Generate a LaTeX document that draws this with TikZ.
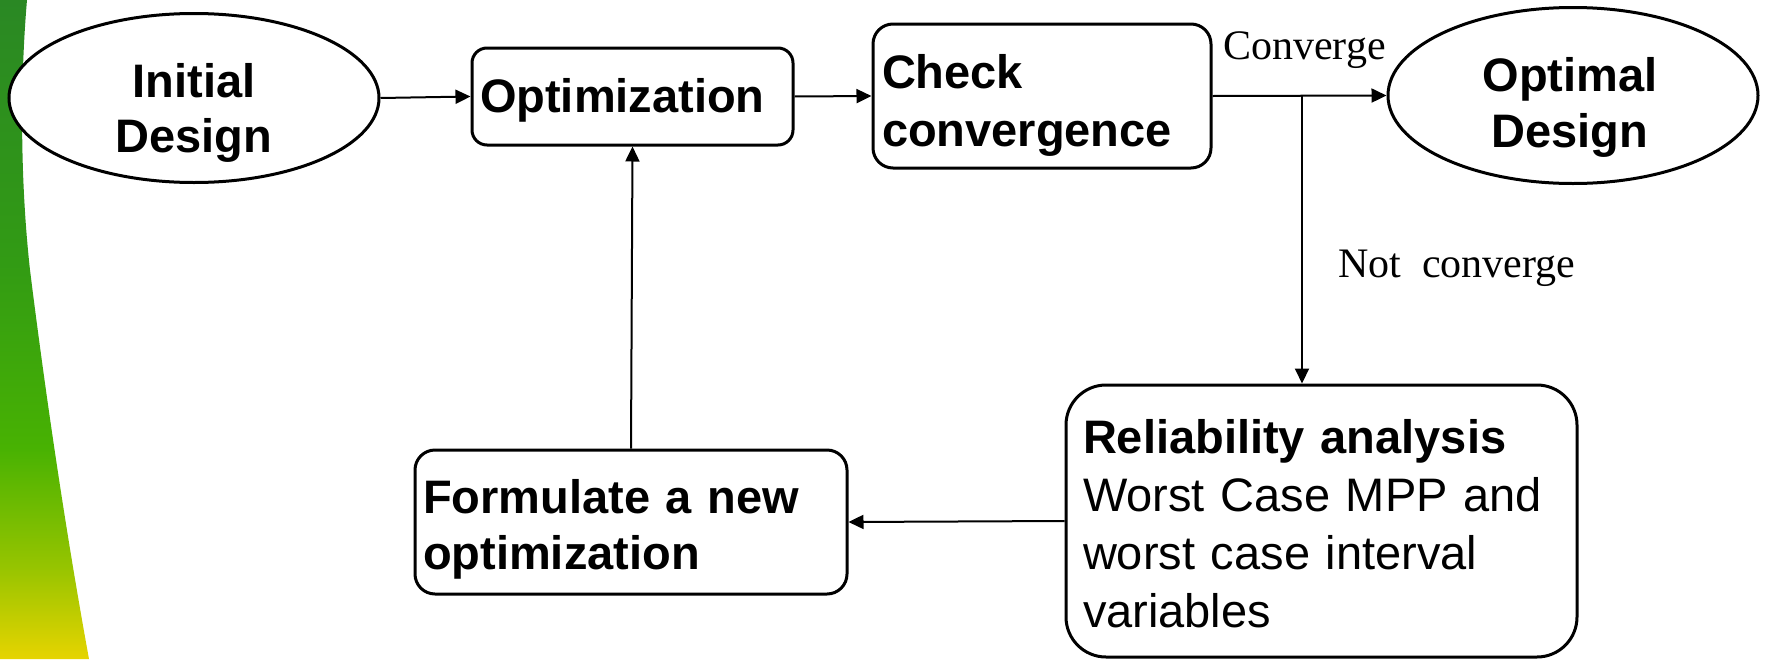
\documentclass[tikz,border=0pt]{standalone}
\usepackage{fontspec}
\setmainfont{Liberation Sans}
\newfontfamily\lblfont{Liberation Serif}
\usetikzlibrary{arrows.meta,shapes.geometric}
\definecolor{gtop}{RGB}{42,136,36}
\definecolor{gup}{RGB}{50,155,20}
\definecolor{gmid}{RGB}{72,178,2}
\definecolor{glow}{RGB}{150,196,0}
\definecolor{gbot}{RGB}{230,212,0}
% the path's bounding box spans 25bp..75bp of this shading
\pgfdeclareverticalshading{stripshade}{100bp}{color(0bp)=(gbot); color(25bp)=(gbot); color(32bp)=(glow); color(41bp)=(gmid); color(55bp)=(gup); color(75bp)=(gtop); color(100bp)=(gtop)}
\tikzset{
  ell/.style={ellipse, draw, line width=3pt, fill=white, inner sep=0pt},
  rbox/.style={rectangle, draw, line width=3pt, fill=white, inner sep=0pt},
  arr/.style={line width=2pt, -{Triangle[length=15pt,width=14pt]}},
  txt/.style={inner sep=0pt, outer sep=0pt},
  lbl/.style={font=\lblfont\fontsize{42}{50}\selectfont, inner sep=0pt, anchor=base west},
}
\begin{document}
\begin{tikzpicture}[x=1pt,y=-1pt]
\useasboundingbox (0,0) rectangle (1765,659);
% left decorative strip
\shade[shading=stripshade]
  (0,0) -- (27,0) .. controls (21,70) and (19,170) .. (30,270)
  .. controls (40,350) and (60,500) .. (89,659) -- (0,659) -- cycle;

% shapes
\node[ell, minimum width=370pt, minimum height=169pt] (init) at (194,98) {};
\node[rbox, rounded corners=15pt, minimum width=321pt, minimum height=97pt] (opt) at (632.5,96.5) {};
\node[rbox, rounded corners=20pt, minimum width=338pt, minimum height=144pt] (chk) at (1042,96) {};
\node[ell, minimum width=370pt, minimum height=176pt] (optd) at (1573,95.5) {};
\node[rbox, rounded corners=40pt, minimum width=511pt, minimum height=272pt] (rel) at (1321.5,521) {};
\node[rbox, rounded corners=20pt, minimum width=432pt, minimum height=144pt] (form) at (631,522) {};

% texts
\node[txt, anchor=base, text width=320pt, align=center,
      font=\fontsize{47}{55}\selectfont\bfseries] (tinit) at (194,97) {Initial\\Design};
\node[txt, anchor=base west, font=\fontsize{47}{57}\selectfont\bfseries] (topt) at (480,112) {Optimization};
\node[txt, anchor=base west, text width=330pt, align=left,
      font=\fontsize{47}{58.5}\selectfont\bfseries] (tchk) at (882,88) {Check\\convergence};
\node[txt, anchor=base, text width=320pt, align=center,
      font=\fontsize{47}{56}\selectfont\bfseries] (toptd) at (1570,91) {Optimal\\Design};
\node[txt, anchor=base west, text width=420pt, align=left,
      font=\fontsize{47}{56}\selectfont\bfseries] (tform) at (423,513) {Formulate a new\\optimization};
\node[txt, anchor=base west, text width=490pt, align=left,
      font=\fontsize{47}{58}\selectfont] (trel) at (1083,453)
      {\textbf{Reliability analysis}\\Worst Case MPP and\\worst case interval\\variables};

% labels
\node[lbl] (lconv) at (1223,59) {Converge};
\node[lbl] (lnot) at (1338,277) {Not\ \ converge};

% connectors
\coordinate (br) at (1302,96);
\draw[arr] (init.east) -- (opt.west);
\draw[arr] (opt.east) -- (chk.west);
\draw[arr] (chk.east) -- (optd.west);
\draw[arr] (br) -- (br |- rel.north);
\draw[arr] (rel.west) -- (form.east);
\draw[arr] (form.north) -- (opt.south);
\end{tikzpicture}
\end{document}
